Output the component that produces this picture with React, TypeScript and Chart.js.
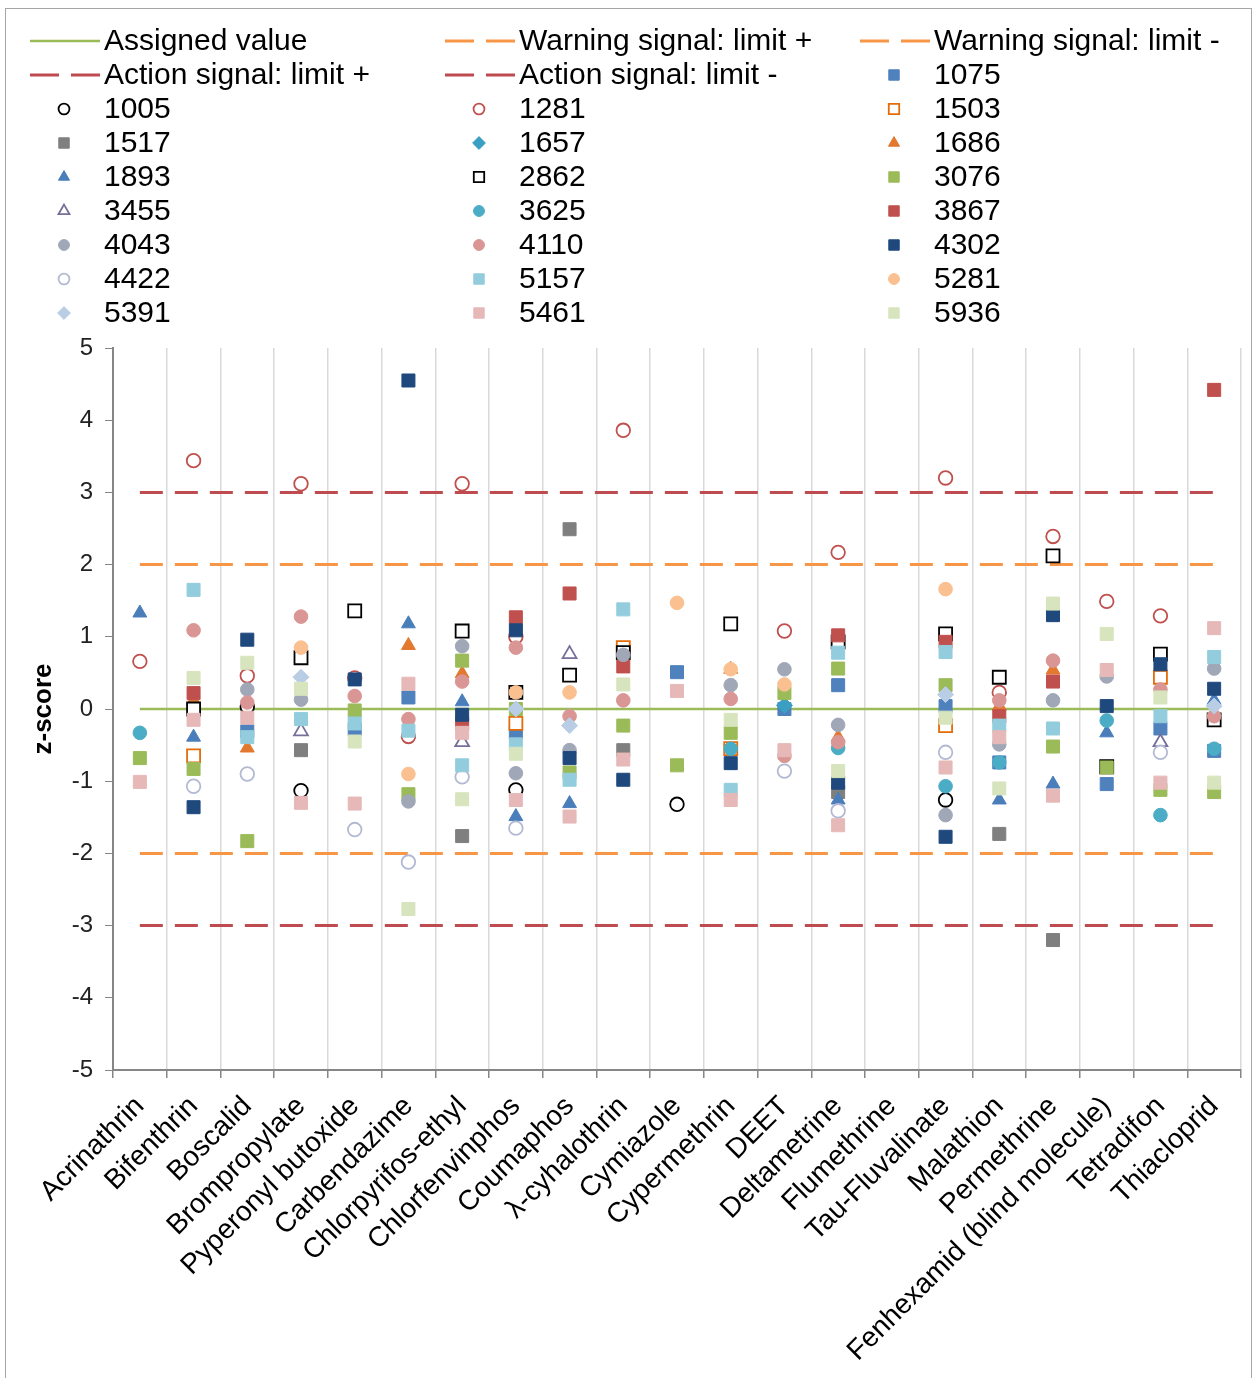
import React, { useEffect, useRef } from 'react';
import { Chart, registerables } from 'chart.js';
import { drawPoint } from 'chart.js/helpers';

Chart.register(...registerables);

// ---------------- DATA ----------------
const categories = [
  'Acrinathrin', 'Bifenthrin', 'Boscalid', 'Brompropylate', 'Pyperonyl butoxide',
  'Carbendazime', 'Chlorpyrifos-ethyl', 'Chlorfenvinphos', 'Coumaphos', 'λ-cyhalothrin',
  'Cymiazole', 'Cypermethrin', 'DEET', 'Deltametrine', 'Flumethrine', 'Tau-Fluvalinate',
  'Malathion', 'Permethrine', 'Fenhexamid (blind molecule)', 'Tetradifon', 'Thiacloprid',
];

const yTicks = [5, 4, 3, 2, 1, 0, -1, -2, -3, -4, -5];

const assignedValue = [0, 0, 0, 0, 0, 0, 0, 0, 0, 0, 0, 0, 0, 0, 0, 0, 0, 0, 0, 0, 0];
const warningPlus = [2, 2, 2, 2, 2, 2, 2, 2, 2, 2, 2, 2, 2, 2, 2, 2, 2, 2, 2, 2, 2];
const warningMinus = [-2, -2, -2, -2, -2, -2, -2, -2, -2, -2, -2, -2, -2, -2, -2, -2, -2, -2, -2, -2, -2];
const actionPlus = [3, 3, 3, 3, 3, 3, 3, 3, 3, 3, 3, 3, 3, 3, 3, 3, 3, 3, 3, 3, 3];
const actionMinus = [-3, -3, -3, -3, -3, -3, -3, -3, -3, -3, -3, -3, -3, -3, -3, -3, -3, -3, -3, -3, -3];

const N = null;
const lab1075 = [N, N, -0.31, N, -0.28, 0.16, N, -0.33, N, N, 0.51, N, 0.0, 0.33, N, 0.04, -0.74, N, -1.04, -0.27, -0.58];
const lab1005 = [N, N, 0.03, -1.13, N, N, N, -1.12, N, N, -1.32, N, N, N, N, -1.26, N, N, N, N, N];
const lab1281 = [0.66, 3.44, 0.46, 3.12, 0.43, -0.38, 3.12, 1.0, N, 3.86, N, N, 1.08, 2.17, N, 3.2, 0.23, 2.39, 1.49, 1.29, N];
const lab1503 = [N, -0.65, N, N, N, N, N, -0.2, N, 0.85, N, -0.55, N, N, N, -0.23, N, N, N, 0.44, N];
const lab1517 = [N, N, N, -0.57, N, N, -1.76, N, 2.49, -0.57, N, N, N, -1.15, N, N, -1.73, -3.2, N, N, N];
const lab1657 = [N, N, N, N, N, N, N, N, N, N, N, N, 0.05, N, N, N, N, N, N, N, N];
const lab1686 = [N, 0.12, -0.54, N, N, 0.88, 0.49, N, N, N, N, 0.55, N, -0.39, N, N, 0.04, 0.54, N, N, N];
const lab1893 = [1.33, -0.39, N, N, N, 1.18, 0.1, -1.49, -1.31, N, N, N, N, -1.26, N, N, -1.26, -1.04, -0.33, N, 0.12];
const lab2862 = [N, 0.0, N, 0.71, 1.36, N, 1.08, 0.23, 0.47, 0.78, N, 1.18, N, 0.93, N, 1.04, 0.44, 2.12, -0.8, 0.76, -0.15];
const lab3076 = [-0.68, -0.83, -1.83, N, -0.02, -1.18, 0.67, 0.0, -0.88, -0.23, -0.78, -0.33, 0.22, 0.56, N, 0.33, N, -0.52, -0.81, -1.12, -1.15];
const lab3455 = [N, N, N, -0.31, N, N, -0.46, N, 0.76, N, N, N, N, N, N, N, N, N, N, -0.46, N];
const lab3625 = [-0.33, N, N, N, N, N, N, N, N, N, N, -0.55, N, -0.54, N, -1.07, -0.74, N, -0.16, -1.47, -0.55];
const lab3867 = [N, 0.22, N, N, N, N, -0.2, 1.27, 1.6, 0.59, N, N, N, 1.02, N, 0.93, -0.1, 0.38, N, N, 4.42];
const lab4043 = [N, N, 0.27, 0.13, N, -1.28, 0.87, -0.89, -0.57, 0.75, N, 0.33, 0.55, -0.22, N, -1.47, -0.49, 0.12, 0.45, N, 0.56];
const lab4110 = [N, 1.09, 0.09, 1.28, 0.18, -0.14, 0.38, 0.85, -0.1, 0.12, N, 0.14, -0.65, -0.46, N, N, 0.12, 0.67, N, 0.27, -0.1];
const lab4302 = [N, -1.36, 0.96, N, 0.41, 4.55, -0.08, 1.09, -0.68, -0.98, N, -0.75, N, -1.02, N, -1.77, N, 1.3, 0.04, 0.62, 0.28];
const lab4422 = [N, -1.07, -0.9, N, -1.67, -2.12, -0.94, -1.65, N, N, N, N, -0.86, -1.41, N, -0.6, N, N, N, -0.6, N];
const lab5157 = [N, 1.65, -0.39, -0.14, -0.2, -0.3, -0.78, -0.49, -0.98, 1.38, N, -1.12, N, 0.78, N, 0.79, -0.23, -0.27, N, -0.1, 0.72];
const lab5281 = [N, N, N, 0.85, N, -0.9, N, 0.23, 0.23, N, 1.47, 0.55, 0.34, N, N, 1.66, N, N, N, N, N];
const lab5391 = [N, N, N, 0.44, N, N, N, 0.0, -0.23, N, N, N, N, N, N, 0.2, N, N, N, N, 0.04];
const lab5461 = [-1.01, -0.15, -0.12, -1.3, -1.31, 0.35, -0.33, -1.26, -1.49, -0.7, 0.25, -1.26, -0.57, -1.61, N, -0.81, -0.39, -1.2, 0.54, -1.02, 1.12];
const lab5936 = [N, 0.43, 0.64, 0.28, -0.45, -2.77, -1.25, -0.62, N, 0.34, N, -0.15, N, -0.86, N, -0.12, -1.1, 1.46, 1.04, 0.16, -1.02];

// ---------------- STYLES ----------------
type LineDef = { label: string; data: (number | null)[]; color: string; width: number; dash: number[] };
const lineDefs: LineDef[] = [
  { label: 'Assigned value', data: assignedValue, color: '#9BBB59', width: 2.5, dash: [] },
  { label: 'Warning signal: limit +', data: warningPlus, color: '#F79646', width: 3, dash: [23, 12] },
  { label: 'Warning signal: limit -', data: warningMinus, color: '#F79646', width: 3, dash: [23, 12] },
  { label: 'Action signal: limit +', data: actionPlus, color: '#BE4B50', width: 3, dash: [23, 12] },
  { label: 'Action signal: limit -', data: actionMinus, color: '#BE4B50', width: 3, dash: [23, 12] },
];

type LabDef = { label: string; data: (number | null)[]; shape: string; color: string; open: boolean };
const labDefs: LabDef[] = [
  { label: '1075', data: lab1075, shape: 'rect', color: '#4F81BD', open: false },
  { label: '1005', data: lab1005, shape: 'circle', color: '#000000', open: true },
  { label: '1281', data: lab1281, shape: 'circle', color: '#C0504D', open: true },
  { label: '1503', data: lab1503, shape: 'rect', color: '#E46C0A', open: true },
  { label: '1517', data: lab1517, shape: 'rect', color: '#7F7F7F', open: false },
  { label: '1657', data: lab1657, shape: 'rectRot', color: '#3A9FC2', open: false },
  { label: '1686', data: lab1686, shape: 'triangle', color: '#E3782F', open: false },
  { label: '1893', data: lab1893, shape: 'triangle', color: '#4A7EBB', open: false },
  { label: '2862', data: lab2862, shape: 'rect', color: '#000000', open: true },
  { label: '3076', data: lab3076, shape: 'rect', color: '#9BBB59', open: false },
  { label: '3455', data: lab3455, shape: 'triangle', color: '#76709A', open: true },
  { label: '3625', data: lab3625, shape: 'circle', color: '#4BACC6', open: false },
  { label: '3867', data: lab3867, shape: 'rect', color: '#C0504D', open: false },
  { label: '4043', data: lab4043, shape: 'circle', color: '#A0A8B8', open: false },
  { label: '4110', data: lab4110, shape: 'circle', color: '#D99694', open: false },
  { label: '4302', data: lab4302, shape: 'rect', color: '#1F497D', open: false },
  { label: '4422', data: lab4422, shape: 'circle', color: '#B4B9D3', open: true },
  { label: '5157', data: lab5157, shape: 'rect', color: '#93CDDD', open: false },
  { label: '5281', data: lab5281, shape: 'circle', color: '#FAC090', open: false },
  { label: '5391', data: lab5391, shape: 'rectRot', color: '#B9CDE5', open: false },
  { label: '5461', data: lab5461, shape: 'rect', color: '#E6B9B8', open: false },
  { label: '5936', data: lab5936, shape: 'rect', color: '#D7E4BD', open: false },
];

const radiusFor: Record<string, number> = { rect: 9.2, circle: 6.8, triangle: 8, rectRot: 8 };

const FONT = "'Liberation Sans', Arial, sans-serif";

// legend layout
const LEG_COL_X = [30, 445, 860];
const LEG_ROW_Y0 = 41;
const LEG_ROW_H = 34;

const frameAndLegend = {
  id: 'frameAndLegend',
  beforeDraw(chart: any) {
    const ctx = chart.ctx as CanvasRenderingContext2D;
    ctx.save();
    ctx.fillStyle = '#ffffff';
    ctx.fillRect(0, 0, chart.width, chart.height);
    ctx.strokeStyle = '#a6a6a6';
    ctx.lineWidth = 1;
    ctx.strokeRect(5.5, 8.5, 1246, 1400);
    ctx.restore();
  },
  afterDraw(chart: any) {
    const ctx = chart.ctx as CanvasRenderingContext2D;
    ctx.save();
    chart.data.datasets.forEach((ds: any, i: number) => {
      const col = i % 3;
      const row = Math.floor(i / 3);
      const x0 = LEG_COL_X[col];
      const y = LEG_ROW_Y0 + row * LEG_ROW_H;
      if (ds.isLimitLine) {
        ctx.strokeStyle = ds.borderColor;
        ctx.lineWidth = ds.borderWidth;
        ctx.setLineDash(ds.borderDash && ds.borderDash.length ? [29, 12] : []);
        ctx.beginPath();
        ctx.moveTo(x0, y);
        ctx.lineTo(x0 + 70, y);
        ctx.stroke();
        ctx.setLineDash([]);
      } else {
        ctx.fillStyle = ds.pointBackgroundColor;
        ctx.strokeStyle = ds.pointBorderColor;
        ctx.lineWidth = ds.pointBorderWidth;
        drawPoint(ctx, {
          pointStyle: ds.pointStyle,
          radius: ds.pointRadius * 0.8,
          rotation: 0,
          borderWidth: ds.pointBorderWidth,
        } as any, x0 + 34, y);
      }
      ctx.fillStyle = '#000000';
      ctx.font = `30px ${FONT}`;
      ctx.textBaseline = 'middle';
      ctx.textAlign = 'left';
      ctx.fillText(ds.label, x0 + 74, y + 1);
    });
    ctx.restore();
  },
};

export default function App() {
  const ref = useRef<HTMLCanvasElement | null>(null);

  useEffect(() => {
    if (!ref.current) return;
    const lineSets = lineDefs.map((d) => ({
      label: d.label,
      data: d.data,
      isLimitLine: true,
      borderColor: d.color,
      backgroundColor: d.color,
      borderWidth: d.width,
      borderDash: d.dash,
      pointRadius: 0,
      fill: false,
      tension: 0,
      order: 1000,
    }));
    const labSets = labDefs.map((d, i) => ({
      label: d.label,
      data: d.data,
      isLimitLine: false,
      showLine: false,
      pointStyle: d.shape,
      pointRadius: radiusFor[d.shape],
      pointHoverRadius: radiusFor[d.shape],
      pointBackgroundColor: d.open ? '#ffffff' : d.color,
      pointBorderColor: d.color,
      pointBorderWidth: d.open ? 1.8 : 1,
      borderColor: d.color,
      backgroundColor: d.color,
      order: -i,
    }));
    // legend order: 5 lines then labs
    const datasets = [...lineSets, ...labSets];

    const chart = new Chart(ref.current, {
      type: 'line',
      data: { labels: categories, datasets: datasets as any },
      plugins: [frameAndLegend],
      options: {
        animation: false,
        responsive: false,
        events: [],
        layout: { padding: { top: 348, left: 20, right: 17, bottom: 0 } },
        plugins: { legend: { display: false }, tooltip: { enabled: false } },
        scales: {
          x: {
            type: 'category',
            offset: true,
            grid: {
              offset: true,
              color: '#d9d9d9',
              lineWidth: 1.5,
              tickColor: '#868686',
              tickLength: 8,
              drawOnChartArea: true,
            },
            border: { color: '#868686', width: 2 },
            ticks: {
              autoSkip: false,
              maxRotation: 45,
              minRotation: 45,
              padding: 12,
              color: '#000000',
              font: { family: FONT, size: 28 },
            },
            afterFit: (s: any) => { s.height = 308; },
          },
          y: {
            min: -5,
            max: 5,
            afterBuildTicks: (s: any) => { s.ticks = yTicks.map((v) => ({ value: v })); },
            grid: { drawOnChartArea: false, tickLength: 8, tickColor: '#868686' },
            border: { color: '#868686', width: 2 },
            ticks: {
              padding: 12,
              color: '#222222',
              font: { family: FONT, size: 24 },
            },
            title: {
              display: true,
              text: 'z-score',
              color: '#000000',
              font: { family: FONT, size: 26, weight: 'bold' },
              padding: { top: 8, bottom: 0 },
            },
            afterFit: (s: any) => { s.width = 93; },
          },
        },
      },
    });
    return () => chart.destroy();
  }, []);

  return (
    <div style={{ position: 'absolute', left: 0, top: 0, width: 1258, height: 1378, background: '#fff' }}>
      <canvas ref={ref} width={1258} height={1378} style={{ width: 1258, height: 1378, display: 'block' }} />
    </div>
  );
}
